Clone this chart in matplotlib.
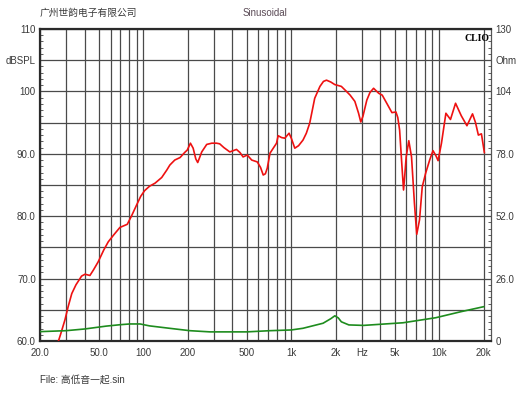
import numpy as np
import matplotlib
matplotlib.use("Agg")
import matplotlib.pyplot as plt
from matplotlib.ticker import FixedLocator, NullFormatter

# =============================================================================
# Data read off the CLIO sweep
# =============================================================================
spl_freq = [26.0, 27.5, 29.5, 31.0, 32.8, 35.0, 38.2, 40.3, 43.5, 46.0, 49.5, 54.0,
            57.9, 63.0, 69.4, 77.8, 83.0, 90.0, 96.0, 102, 110, 120, 133, 144, 151,
            163, 177, 190, 198, 208, 217, 226, 233, 240, 248, 268, 290, 312, 328,
            350, 384, 426, 450, 472, 504, 540, 589, 620, 646, 668, 688, 718, 760,
            795, 815, 860, 904, 966, 1000, 1056, 1120, 1200, 1264, 1332, 1440, 1562,
            1650, 1730, 1850, 1966, 2180, 2360, 2500, 2690, 2850, 2950, 3050, 3240,
            3400, 3600, 3900, 4120, 4420, 4790, 5100, 5250, 5400, 5600, 5740, 5850,
            5980, 6230, 6500, 6800, 7050, 7360, 7680, 8100, 8620, 9080, 9500, 9830,
            10360, 11100, 11920, 12900, 14100, 15400, 16800, 17600, 18400, 19300, 20200]
spl_db = [59.2, 61.0, 63.4, 65.5, 67.6, 69.0, 70.4, 70.7, 70.5, 71.4, 72.7, 74.6,
          75.9, 77.0, 78.2, 78.7, 80.0, 81.8, 83.2, 84.1, 84.8, 85.3, 86.2, 87.4, 88.2,
          89.0, 89.4, 90.2, 90.6, 91.7, 90.9, 89.2, 88.6, 89.4, 90.3, 91.5, 91.7, 91.7, 91.6,
          91.0, 90.3, 90.7, 90.2, 89.5, 89.8, 89.0, 88.7, 87.8, 86.6, 86.8, 87.7, 90.1, 91.0,
          91.7, 92.9, 92.6, 92.5, 93.3, 92.5, 90.9, 91.3, 92.2, 93.3, 94.9, 98.9, 100.8,
          101.6, 101.8, 101.5, 101.1, 100.8, 100.0, 99.4, 98.4, 96.5, 95.1, 96.0, 98.6,
          99.8, 100.5, 99.7, 99.4, 98.1, 96.6, 96.7, 95.8, 93.8, 88.0, 84.2, 86.5,
          89.5, 92.1, 89.5, 82.1, 77.1, 79.4, 84.7, 86.9, 89.0, 90.5, 89.7, 88.9,
          91.7, 96.5, 95.5, 98.1, 96.1, 94.5, 96.4, 95.0, 93.0, 93.2, 90.2]

imp_freq = [20, 30, 40, 56, 70, 81, 95, 110, 150, 206, 282, 500, 718, 1000, 1200,
            1640, 1850, 1970, 2080, 2180, 2450, 3080, 5700, 9480, 14000, 20000]
imp_ohm = [3.9, 4.3, 5.0, 6.2, 6.8, 7.1, 7.1, 6.3, 5.3, 4.3, 3.8, 3.8, 4.3, 4.6, 5.3,
           7.4, 9.3, 10.5, 9.6, 8.0, 6.7, 6.5, 7.6, 9.7, 12.2, 14.3]

x_ticks = [20, 50, 100, 200, 500, 1000, 2000, 3000, 5000, 10000, 20000]
x_labels = ['20.0', '50.0', '100', '200', '500', '1k', '2k', 'Hz', '5k', '10k', '20k']
db_ticks = [60, 65, 70, 75, 80, 85, 90, 95, 100, 105, 110]
db_labels = ['60.0', '', '70.0', '', '80.0', '', '90.0', '', '100', 'dBSPL', '110']
ohm_ticks = [0, 13, 26, 39, 52, 65, 78, 91, 104, 117, 130]
ohm_labels = ['0', '', '26.0', '', '52.0', '', '78.0', '', '104', 'Ohm', '130']

# =============================================================================
# Plot
# =============================================================================
font = ['Liberation Sans', 'Noto Sans CJK SC', 'DejaVu Sans']
txt_color = '#3a3a3a'
grid_color = '#4a4a4a'

fig = plt.figure(figsize=(5.30, 3.98), dpi=100)
ax = fig.add_axes([40 / 530, 1 - 341 / 398, 451 / 530, 312 / 398])

ax.set_xscale('log')
ax.set_xlim(20, 22400)
ax.set_ylim(60, 110)

# vertical grid lines at every 1-2-3...9 step
minor_x = [m * d for d in (10, 100, 1000, 10000) for m in range(1, 10)
           if 20 <= m * d <= 20000 and m * d not in x_ticks]
ax.xaxis.set_major_locator(FixedLocator(x_ticks))
ax.xaxis.set_minor_locator(FixedLocator(minor_x))
ax.xaxis.set_minor_formatter(NullFormatter())
ax.set_xticklabels(x_labels)
ax.grid(True, which='both', axis='x', color=grid_color, linewidth=0.9)

ax.yaxis.set_major_locator(FixedLocator(db_ticks))
ax.yaxis.set_minor_locator(FixedLocator(list(range(60, 111))))
ax.set_yticklabels(db_labels)
ax.grid(True, which='major', axis='y', color=grid_color, linewidth=0.9)

ax.tick_params(axis='x', which='both', length=0, pad=5, labelsize=7, labelcolor=txt_color)
ax.tick_params(axis='y', which='major', direction='in', length=0, pad=3, labelsize=7,
               labelcolor=txt_color)
ax.tick_params(axis='y', which='minor', direction='in', length=2.5, width=0.6,
               color='#444444')

for lab in ax.get_xticklabels() + ax.get_yticklabels():
    lab.set_family(font)

for sp in ax.spines.values():
    sp.set_linewidth(1.6)
    sp.set_color('#2a2a2a')
ax.spines['right'].set_linewidth(0.9)
ax.spines['right'].set_color('#555555')

ax.plot(spl_freq, spl_db, color='#ee1111', linewidth=1.2, zorder=4)

ax2 = ax.twinx()
ax2.set_ylim(0, 130)
ax2.yaxis.set_major_locator(FixedLocator(ohm_ticks))
ax2.yaxis.set_minor_locator(FixedLocator(list(np.arange(0, 131, 2.6))))
ax2.set_yticklabels(ohm_labels)
ax2.tick_params(axis='y', which='major', direction='in', length=0, pad=3, labelsize=7,
                labelcolor=txt_color)
ax2.tick_params(axis='y', which='minor', direction='in', length=2.5, width=0.6,
                color='#444444')
for lab in ax2.get_yticklabels():
    lab.set_family(font)
for sp in ax2.spines.values():
    sp.set_visible(False)

ax2.plot(imp_freq, imp_ohm, color='#1e8c1e', linewidth=1.2, zorder=3)

# header / footer texts
fig.text(40 / 530, 1 - 13 / 398, '广州世韵电子有限公司', fontsize=7, family=font,
         color=txt_color, ha='left', va='center')
fig.text(265 / 530, 1 - 13 / 398, 'Sinusoidal', fontsize=7, family=font,
         color='#5a4a55', ha='center', va='center')
fig.text(40 / 530, 1 - 380 / 398, 'File: 高低音一起.sin', fontsize=7, family=font,
         color=txt_color, ha='left', va='center')
ax.text(0.996, 0.985, 'CLIO', transform=ax.transAxes, fontsize=7, fontweight='bold',
        family=['Liberation Serif', 'DejaVu Serif'], ha='right', va='top', zorder=6)

fig.savefig('out.png', dpi=100)
